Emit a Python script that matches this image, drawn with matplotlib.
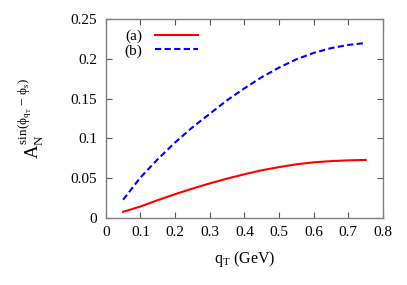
import matplotlib
matplotlib.use("Agg")
import matplotlib.pyplot as plt
from matplotlib.ticker import FuncFormatter

plt.rcParams['font.family'] = ['Liberation Serif', 'DejaVu Serif']
plt.rcParams['mathtext.fontset'] = 'custom'
plt.rcParams['mathtext.rm'] = 'Liberation Serif'
plt.rcParams['mathtext.it'] = 'Liberation Serif'

# values
qt = [0.05, 0.1, 0.15, 0.2, 0.25, 0.3, 0.35, 0.4, 0.45, 0.5, 0.55, 0.6, 0.65, 0.7, 0.75]
curve_a = [0.0078, 0.0145, 0.0225, 0.030, 0.037, 0.0435, 0.0495, 0.055, 0.060, 0.064, 0.0675, 0.070, 0.0715, 0.0725, 0.073]
curve_b = [0.023, 0.051, 0.074, 0.095, 0.114, 0.131, 0.148, 0.163, 0.177, 0.189, 0.1995, 0.2075, 0.2135, 0.2175, 0.220]

fig = plt.figure(figsize=(4.07, 2.85), dpi=100)
ax = fig.add_axes([0.26, 0.235, 0.681, 0.698])

ax.plot(qt, curve_a, color='#ff0000', lw=1.5, label='(a)')
ax.plot(qt, curve_b, color='#0000ff', lw=1.5, ls=(0, (3, 1.6)), label='(b)')

ax.set_xlim(0, 0.8)
ax.set_ylim(0, 0.25)
ax.set_xticks([0, 0.1, 0.2, 0.3, 0.4, 0.5, 0.6, 0.7, 0.8])
ax.set_yticks([0, 0.05, 0.1, 0.15, 0.2, 0.25])
fmt = FuncFormatter(lambda v, p: '%g' % round(v, 3))
ax.xaxis.set_major_formatter(fmt)
ax.yaxis.set_major_formatter(fmt)
ax.tick_params(direction='in', top=True, right=True, length=4, width=0.8,
               color='#555555', labelsize=11, pad=6)
for s in ax.spines.values():
    s.set_color('#808080')
    s.set_linewidth(1.0)

ax.set_xlabel(r'$q_T$ (GeV)', fontsize=11.5)
ax.xaxis.set_label_coords(0.5, -0.155)
ax.set_ylabel(r'$A_N^{\sin(\phi_{q_T}\ \mathrm{-}\ \phi_s)}$', fontsize=13.5)
ax.yaxis.set_label_coords(-0.215, 0.5)

ax.legend(loc='upper left', frameon=False, markerfirst=False, fontsize=11,
          handlelength=2.8, handletextpad=0.8, labelspacing=0.05,
          borderaxespad=0.2, bbox_to_anchor=(0.035, 0.995))

fig.savefig('out.png', dpi=100)
